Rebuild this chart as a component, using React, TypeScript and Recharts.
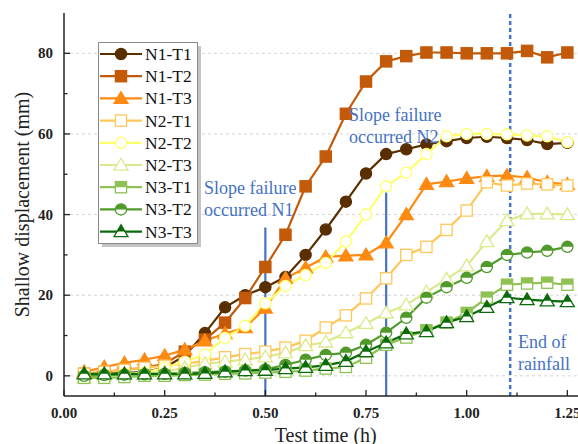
import { LineChart, Line, XAxis, YAxis, CartesianGrid, ReferenceLine, ReferenceDot } from "recharts";

// time (h)
const times = [0.05, 0.1, 0.15, 0.2, 0.25, 0.3, 0.35, 0.4, 0.45, 0.5, 0.55, 0.6, 0.65, 0.7, 0.75, 0.8, 0.85, 0.9, 0.95, 1.0, 1.05, 1.1, 1.15, 1.2, 1.25];

// shallow displacement (mm)
const n1t1 = [0.3, 0.5, 0.7, 1, 2, 5, 10.6, 17, 20, 22, 24.5, 30, 36.3, 43.2, 50.2, 55, 56.2, 57.4, 58.2, 59, 59.3, 59, 58.5, 57.5, 57.8];
const n1t2 = [0.5, 1, 1.5, 2, 3, 6, 9, 13.2, 19.3, 27, 35, 47, 54.4, 65, 73, 78, 79.3, 80.2, 80.2, 80, 80, 80, 80.6, 79, 80.2];
const n1t3 = [1, 2.2, 3.2, 4, 5, 6.5, 8.7, 10.5, 12, 16.8, 24.2, 26.8, 29.5, 29.8, 30, 33, 40, 47.5, 48.2, 49, 49.5, 49.7, 49.2, 48, 47.5];
const n2t1 = [0.5, 1, 1.5, 2, 2.5, 3, 3.7, 4.6, 5.4, 6, 7, 8.7, 12, 15, 19.2, 24.2, 30, 32, 36.2, 41, 48, 47.2, 47.7, 47.5, 47.2];
const n2t2 = [0, 0.3, 0.5, 0.8, 2, 3.5, 5.3, 9.4, 12.4, 18, 22.3, 25, 28, 33.3, 40, 47, 50.4, 55, 59.4, 60, 60, 59.9, 59.6, 59.4, 58];
const n2t3 = [-0.5, 0, 0.3, 0.5, 1, 2, 3, 3.5, 4, 4.7, 5.7, 7.5, 8.4, 10.7, 13, 15.6, 17.6, 20.8, 24, 27.3, 33.3, 38.5, 40.2, 40.2, 40];
const n3t1 = [-0.5, -0.5, -0.3, 0, 0, 0.2, 0.3, 0.5, 0.6, 0.8, 1, 1.3, 1.8, 2.2, 4.5, 7.7, 9.5, 11.3, 13.2, 15.6, 19.4, 22.6, 22.9, 23.1, 22.6];
const n3t2 = [0, 0.2, 0.3, 0.4, 0.5, 0.7, 0.9, 1.1, 1.3, 1.6, 2.7, 4, 5.2, 5.7, 7.7, 10.7, 14.4, 19.4, 22, 24.3, 27, 30, 30.6, 31, 32];
const n3t3 = [0.5, 0.5, 0.5, 0.5, 0.5, 0.5, 0.6, 1, 1.3, 1.4, 1.8, 2.1, 2.6, 3.6, 6, 8.2, 10.4, 11, 13.2, 14.7, 17, 19.4, 18.9, 18.6, 18.4];

const xTicks = [0, 0.125, 0.25, 0.375, 0.5, 0.625, 0.75, 0.875, 1, 1.125, 1.25];
const yTicks = [-0, 10, 20, 30, 40, 50, 60, 70, 80];
const gridValues = [0, 20, 40, 60, 80];

type Shape = "circle" | "square" | "triangle";
type Fill = "solid" | "open" | "half";

const series: { name: string; values: number[]; color: string; shape: Shape; fill: Fill }[] = [
  { name: "N1-T1", values: n1t1, color: "#5a2f00", shape: "circle", fill: "solid" },
  { name: "N1-T2", values: n1t2, color: "#c25a0a", shape: "square", fill: "solid" },
  { name: "N1-T3", values: n1t3, color: "#ff8a12", shape: "triangle", fill: "solid" },
  { name: "N2-T1", values: n2t1, color: "#ffc75a", shape: "square", fill: "open" },
  { name: "N2-T2", values: n2t2, color: "#ffff6a", shape: "circle", fill: "open" },
  { name: "N2-T3", values: n2t3, color: "#dbe98c", shape: "triangle", fill: "open" },
  { name: "N3-T1", values: n3t1, color: "#8fc153", shape: "square", fill: "half" },
  { name: "N3-T2", values: n3t2, color: "#4f9a2a", shape: "circle", fill: "half" },
  { name: "N3-T3", values: n3t3, color: "#0b6a0b", shape: "triangle", fill: "half" },
];

const rows = times.map((t, i) => {
  const row: Record<string, number> = { t };
  series.forEach((s) => (row[s.name] = s.values[i]));
  return row;
});

const BLUE = "#4472c4";
const SERIF = "'Liberation Serif', 'Times New Roman', serif";

function Marker({ cx, cy, shape, color, fill, s = 5.6 }: any) {
  if (cx == null || cy == null) return null;
  const body = fill === "solid" ? color : "#fff";
  const sw = 1.3;
  if (shape === "circle") {
    return (
      <g>
        <circle cx={cx} cy={cy} r={s} fill={body} stroke={color} strokeWidth={sw} />
        {fill === "half" && <path d={`M${cx - s},${cy} A${s},${s} 0 0 1 ${cx + s},${cy} Z`} fill={color} />}
      </g>
    );
  }
  if (shape === "square") {
    return (
      <g>
        <rect x={cx - s} y={cy - s} width={2 * s} height={2 * s} fill={body} stroke={color} strokeWidth={sw} />
        {fill === "half" && <rect x={cx - s} y={cy - s} width={2 * s} height={s} fill={color} />}
      </g>
    );
  }
  const top = cy - s * 1.2;
  const bot = cy + s * 0.9;
  const hw = s * 1.25;
  const cut = hw * ((cy - top) / (bot - top));
  return (
    <g>
      <polygon points={`${cx},${top} ${cx - hw},${bot} ${cx + hw},${bot}`} fill={body} stroke={color} strokeWidth={sw} strokeLinejoin="miter" />
      {fill === "half" && <polygon points={`${cx},${top} ${cx - cut},${cy} ${cx + cut},${cy}`} fill={color} />}
    </g>
  );
}

function XTick({ x, y, payload }: any) {
  const v = payload.value;
  const major = Math.abs(v / 0.25 - Math.round(v / 0.25)) < 1e-6;
  return (
    <g>
      <line x1={x} x2={x} y1={y} y2={y - (major ? 6 : 3.5)} stroke="#222" strokeWidth={1.3} />
      {major && (
        <text x={x} y={y + 22} textAnchor="middle" fontFamily={SERIF} fontWeight="bold" fontSize={15} fill="#222">
          {v.toFixed(2)}
        </text>
      )}
    </g>
  );
}

function YTick({ x, y, payload }: any) {
  const v = payload.value;
  const major = v % 20 === 0;
  return (
    <g>
      <line x1={x} x2={x + (major ? 6 : 3.5)} y1={y} y2={y} stroke="#222" strokeWidth={1.3} />
      {major && (
        <text x={x - 11} y={y + 5} textAnchor="end" fontFamily={SERIF} fontWeight="bold" fontSize={15} fill="#222">
          {Math.abs(v)}
        </text>
      )}
    </g>
  );
}

function Note({ viewBox, lines }: any) {
  if (!viewBox) return null;
  return (
    <text x={viewBox.x} y={viewBox.y} fontFamily={SERIF} fontSize={18} fill={BLUE}>
      {lines.map((l: string, i: number) => (
        <tspan key={l} x={viewBox.x} dy={i === 0 ? 0 : 22}>
          {l}
        </tspan>
      ))}
    </text>
  );
}

function LegendBox() {
  return (
    <svg width={106} height={208} style={{ position: "absolute", left: 98, top: 42 }}>
      <rect x={4} y={4} width={99} height={201} fill="#c4c4c4" />
      <rect x={0.5} y={0.5} width={99} height={201} fill="#fff" stroke="#8a8a8a" />
      {series.map((s, i) => {
        const y = 12 + i * 22.2;
        return (
          <g key={s.name}>
            <line x1={2} x2={44} y1={y} y2={y} stroke={s.color} strokeWidth={2.2} />
            <Marker cx={23} cy={y} shape={s.shape} color={s.color} fill={s.fill} />
            <text x={47} y={y + 6} fontFamily={SERIF} fontSize={17.5} fill="#111">
              {s.name}
            </text>
          </g>
        );
      })}
    </svg>
  );
}

export default function App() {
  return (
    <div style={{ position: "relative", width: 578, height: 444, overflow: "hidden", background: "#fff" }}>
      <style>{"body{margin:0}"}</style>
      <LineChart width={600} height={460} data={rows} margin={{ top: 13, right: 12.5, bottom: 14, left: 0 }}>
        <CartesianGrid vertical={false} horizontalValues={gridValues} stroke="#d4d4d4" strokeDasharray="3 3" />
        <XAxis
          dataKey="t"
          type="number"
          domain={[0, 1.3]}
          ticks={xTicks}
          allowDataOverflow
          height={50}
          tickSize={0}
          tickMargin={0}
          tickLine={false}
          tick={<XTick />}
          axisLine={{ stroke: "#222", strokeWidth: 1.5 }}
          label={(p: any) => (
            <text x={p.viewBox.x + p.viewBox.width / 2} y={p.viewBox.y + 46} textAnchor="middle" fontFamily={SERIF} fontSize={20} fill="#222">
              Test time (h)
            </text>
          )}
        />
        <XAxis xAxisId="top" orientation="top" type="number" domain={[0, 1.3]} height={0} tick={false} tickLine={false} axisLine={{ stroke: "#222", strokeWidth: 1.5 }} />
        <YAxis
          type="number"
          domain={[-5, 90]}
          ticks={yTicks}
          allowDataOverflow
          width={64}
          tickSize={0}
          tickMargin={0}
          tickLine={false}
          tick={<YTick />}
          axisLine={{ stroke: "#222", strokeWidth: 1.5 }}
          label={(p: any) => {
            const cx = p.viewBox.x + 22;
            const cy = p.viewBox.y + p.viewBox.height / 2;
            return (
              <text x={cx} y={cy} transform={`rotate(-90 ${cx} ${cy})`} textAnchor="middle" dominantBaseline="central" fontFamily={SERIF} fontSize={20} fill="#222">
                Shallow displacement (mm)
              </text>
            );
          }}
        />
        <ReferenceLine segment={[{ x: 0.5, y: -5 }, { x: 0.5, y: 36.8 }]} stroke={BLUE} strokeWidth={2.2} />
        <ReferenceLine segment={[{ x: 0.8, y: -5 }, { x: 0.8, y: 45.5 }]} stroke={BLUE} strokeWidth={2.2} />
        <ReferenceLine x={1.108} stroke={BLUE} strokeWidth={2.5} strokeDasharray="4 3" />
        {series.map((s) => (
          <Line
            key={s.name}
            dataKey={s.name}
            stroke={s.color}
            strokeWidth={2.2}
            isAnimationActive={false}
            dot={(p: any) => <Marker key={`${s.name}-${p.index}`} cx={p.cx} cy={p.cy} shape={s.shape} color={s.color} fill={s.fill} />}
            activeDot={false}
          />
        ))}
        <ReferenceDot x={0.3477} y={45.2} r={0} stroke="none" fill="none" label={(p: any) => <Note viewBox={p.viewBox} lines={["Slope failure", "occurred N1"]} />} />
        <ReferenceDot x={0.7077} y={63.1} r={0} stroke="none" fill="none" label={(p: any) => <Note viewBox={p.viewBox} lines={["Slope failure", "occurred N2"]} />} />
        <ReferenceDot x={1.1274} y={7} r={0} stroke="none" fill="none" label={(p: any) => <Note viewBox={p.viewBox} lines={["End of", "rainfall"]} />} />
      </LineChart>
      <LegendBox />
    </div>
  );
}
